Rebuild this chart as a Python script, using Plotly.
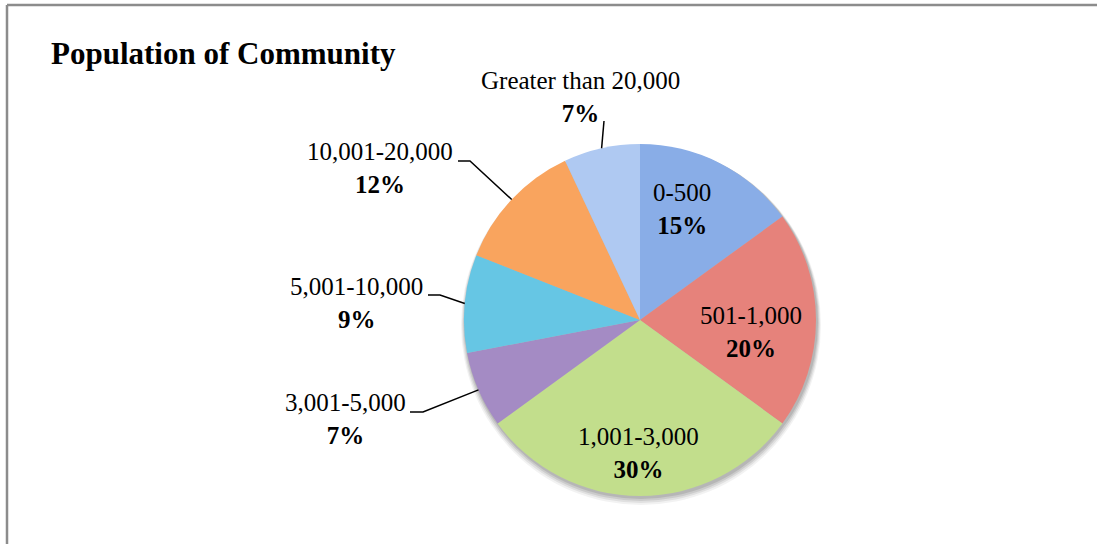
import math
import plotly.graph_objects as go

# --- data -------------------------------------------------------------
categories = ["0-500", "501-1,000", "1,001-3,000", "3,001-5,000",
              "5,001-10,000", "10,001-20,000", "Greater than 20,000"]
shares = [15, 20, 30, 7, 9, 12, 7]

# --- styling ----------------------------------------------------------
W, H = 1097, 544
slice_colors = ["#89ade7", "#e6827b", "#c2de8c", "#a48bc4",
                "#66c6e4", "#f9a45e", "#afc9f2"]
FONT = "Liberation Serif, Times New Roman, serif"
CX, CY, R = 640, 320, 176          # pie centre / radius in pixels

# label block centres (pixels)
label_pos = {
    "0-500": (682, 209),
    "501-1,000": (751, 332),
    "1,001-3,000": (638, 453),
    "3,001-5,000": (345, 419),
    "5,001-10,000": (356, 303),
    "10,001-20,000": (380, 168),
    "Greater than 20,000": (580, 97),
}
# leader lines: points near the label, ending on the slice edge
leader_start = {
    "3,001-5,000": [(410, 412), (423, 412)],
    "5,001-10,000": [(428, 295), (440, 295)],
    "10,001-20,000": [(458, 161), (470, 161)],
    "Greater than 20,000": [(604, 121)],
}


def px(x, y):
    return x / W, 1 - y / H


fig = go.Figure(go.Pie(
    labels=categories,
    values=shares,
    sort=False,
    direction="clockwise",
    rotation=0,
    textinfo="none",
    hoverinfo="label+percent",
    marker=dict(colors=slice_colors, line=dict(width=0)),
    showlegend=False,
    domain=dict(x=[(CX - R) / W, (CX + R) / W],
                y=[1 - (CY + R) / H, 1 - (CY - R) / H]),
))

annotations = []
shapes = []

# soft drop shadow under the pie
for grow, drop, alpha in [(4, 5, 0.05), (3, 4, 0.07), (2, 3, 0.09), (1, 2, 0.10)]:
    x0, y0 = px(CX - R - grow + 1, CY - R - grow + drop)
    x1, y1 = px(CX + R + grow + 1, CY + R + grow + drop)
    shapes.append(dict(type="circle", xref="paper", yref="paper",
                       x0=x0, y0=y1, x1=x1, y1=y0, layer="below",
                       fillcolor=f"rgba(0,0,0,{alpha})", line=dict(width=0)))

total = sum(shares)
cum = 0
for name, v in zip(categories, shares):
    mid = (cum + v / 2) / total * 2 * math.pi
    cum += v
    lx, ly = label_pos[name]
    x, y = px(lx, ly)
    annotations.append(dict(
        x=x, y=y, xref="paper", yref="paper", xanchor="center",
        yanchor="middle", showarrow=False, align="center",
        text=f"{name}<br><b>{v}%</b>",
        font=dict(family=FONT, size=25, color="#000000"),
    ))
    if name in leader_start:
        ex, ey = CX + R * math.sin(mid), CY - R * math.cos(mid)
        pts = leader_start[name] + [(ex, ey)]
        path = "M " + " L ".join(
            f"{px(a, b)[0]:.5f},{px(a, b)[1]:.5f}" for a, b in pts)
        shapes.append(dict(type="path", path=path, xref="paper",
                           yref="paper", line=dict(color="#000000", width=1.5)))

# chart title
tx, ty = px(49, 54)
annotations.append(dict(
    x=tx, y=ty, xref="paper", yref="paper", xanchor="left",
    yanchor="middle", showarrow=False,
    text="<b>Population of Community</b>",
    font=dict(family=FONT, size=31, color="#000000"),
))

# chart-area frame (top and left edges)
fx, fy = px(7, 5)
shapes.append(dict(type="line", xref="paper", yref="paper",
                   x0=fx, y0=fy, x1=1, y1=fy,
                   line=dict(color="#8c8c8c", width=2.5)))
shapes.append(dict(type="line", xref="paper", yref="paper",
                   x0=fx, y0=0, x1=fx, y1=fy,
                   line=dict(color="#8c8c8c", width=2.5)))

fig.update_layout(
    width=W, height=H,
    margin=dict(l=0, r=0, t=0, b=0),
    paper_bgcolor="#ffffff",
    plot_bgcolor="#ffffff",
    annotations=annotations,
    shapes=shapes,
)

fig.write_html("out.html")
